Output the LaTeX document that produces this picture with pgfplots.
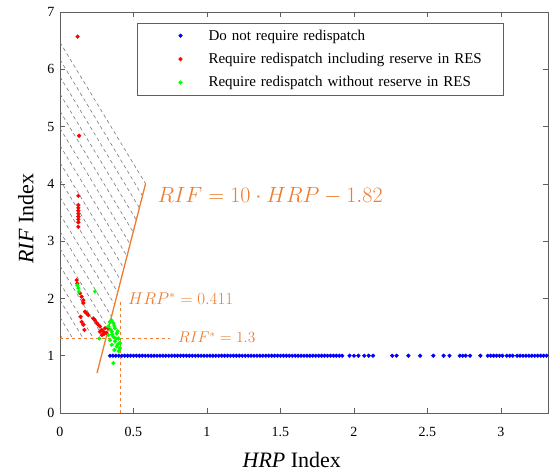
\RequirePackage{fix-cm}
\documentclass[border=0pt]{standalone}
\usepackage{pgfplots}
\pgfplotsset{compat=1.18}
\usepackage{fontspec}
\setmainfont{Liberation Serif}
\definecolor{annot}{RGB}{237,125,49}
\definecolor{axgray}{RGB}{95,95,95}
\definecolor{hatchgray}{RGB}{120,120,120}

\pgfplotsset{
  pointset/.style={color=#1, draw=none, mark=*, mark size=1.9pt,
    mark options={draw=#1, fill=#1, line width=0.4pt},
    legend image code/.code={%
      \path[mark repeat=2, mark phase=2, ##1] plot coordinates {(0pt,0pt) (36pt,0pt) (62pt,0pt)};}},
}

\begin{document}
\begin{tikzpicture}
\begin{axis}[
  scale only axis, width=488pt, height=401pt,
  xmin=0, xmax=3.32, ymin=0, ymax=7,
  xtick={0,0.5,1,1.5,2,2.5,3}, ytick={0,1,2,3,4,5,6,7},
  tick align=inside, major tick length=5pt,
  axis line style={axgray, line width=0.9pt},
  tick style={axgray, line width=0.7pt},
  /pgf/number format/assume math mode=true,
  ticklabel style={font=\fontsize{14}{14}\selectfont},
  xticklabel style={yshift=-11pt},
  yticklabel style={xshift=-2pt},
  xlabel={\textit{HRP} Index}, ylabel={\textit{RIF} Index},
  label style={font=\fontsize{22}{22}\selectfont},
  xlabel style={at={(axis description cs:0.475,-0.09)}, anchor=north},
  ylabel style={at={(axis description cs:-0.047,0.485)}, anchor=south},
  legend cell align=left,
  legend style={at={(0.158,0.973)}, anchor=north west, draw=axgray,
    line width=0.8pt, font=\fontsize{15}{17}\selectfont,
    inner xsep=7pt, inner ysep=4.5pt, row sep=7.5pt,
    nodes={text width=286pt}},
]

% Dashed hatching of the redispatch region
\addplot[hatchgray, line width=0.6pt, dash pattern=on 3.5pt off 3pt,
  forget plot, unbounded coords=jump] coordinates {
  (0,6.47) (0.5822,4.002) (nan,nan)
  (0,6.17) (0.5611,3.791) (nan,nan)
  (0,5.87) (0.5400,3.580) (nan,nan)
  (0,5.57) (0.5190,3.370) (nan,nan)
  (0,5.27) (0.4979,3.159) (nan,nan)
  (0,4.97) (0.4768,2.948) (nan,nan)
  (0,4.67) (0.4558,2.738) (nan,nan)
  (0,4.37) (0.4347,2.527) (nan,nan)
  (0,4.07) (0.4136,2.316) (nan,nan)
  (0,3.77) (0.3926,2.106) (nan,nan)
  (0,3.47) (0.3715,1.895) (nan,nan)
  (0,3.17) (0.3504,1.684) (nan,nan)
  (0,2.87) (0.3294,1.474) (nan,nan)
  (0,2.57) (0.2995,1.3) (nan,nan)
  (0,2.27) (0.2288,1.3) (nan,nan)
  (0,1.97) (0.1580,1.3) (nan,nan)
  (0,1.67) (0.0873,1.3) (nan,nan)
  (0,1.37) (0.0165,1.3)
};

% Thresholds and boundary line
\addplot[annot, line width=1.3pt, forget plot] coordinates {(0.252,0.70) (0.582,4.0)};
\addplot[annot, dashed, line width=0.8pt, forget plot] coordinates {(0.411,0) (0.411,1.94)};
\addplot[annot, dashed, line width=0.8pt, forget plot] coordinates {(0,1.3) (0.75,1.3)};

% Operating points
\addplot[pointset=blue] coordinates {
  (0.34,1) (0.36,1) (0.38,1) (0.40,1) (0.42,1) (0.44,1) (0.46,1) (0.48,1) (0.50,1)
  (0.52,1) (0.54,1) (0.56,1) (0.58,1) (0.60,1) (0.62,1) (0.64,1) (0.66,1) (0.68,1)
  (0.70,1) (0.72,1) (0.74,1) (0.76,1) (0.78,1) (0.80,1) (0.82,1) (0.84,1) (0.86,1)
  (0.88,1) (0.90,1) (0.92,1) (0.94,1) (0.96,1) (0.98,1) (1.00,1) (1.02,1) (1.04,1)
  (1.06,1) (1.08,1) (1.10,1) (1.12,1) (1.14,1) (1.16,1) (1.18,1) (1.20,1) (1.22,1)
  (1.24,1) (1.26,1) (1.28,1) (1.30,1) (1.32,1) (1.34,1) (1.36,1) (1.38,1) (1.40,1)
  (1.42,1) (1.44,1) (1.46,1) (1.48,1) (1.50,1) (1.52,1) (1.54,1) (1.56,1) (1.58,1)
  (1.60,1) (1.62,1) (1.64,1) (1.66,1) (1.68,1) (1.70,1) (1.72,1) (1.74,1) (1.76,1)
  (1.78,1) (1.80,1) (1.82,1) (1.84,1) (1.86,1) (1.88,1) (1.90,1) (1.92,1)
  (1.97,1) (2.00,1) (2.03,1) (2.07,1) (2.10,1) (2.13,1)
  (2.26,1) (2.29,1) (2.37,1) (2.45,1) (2.54,1) (2.61,1) (2.65,1)
  (2.72,1) (2.74,1) (2.76,1) (2.79,1) (2.86,1)
  (2.91,1) (2.93,1) (2.95,1) (2.97,1) (2.99,1) (3.01,1)
  (3.04,1) (3.06,1) (3.08,1) (3.11,1) (3.13,1) (3.15,1) (3.17,1) (3.19,1)
  (3.21,1) (3.23,1) (3.25,1) (3.27,1) (3.29,1) (3.31,1)
};
\addlegendentry{Do not require redispatch}

\addplot[pointset=red] coordinates {
  (0.120,6.57) (0.130,4.84) (0.125,3.79)
  (0.125,3.63) (0.125,3.58) (0.125,3.53) (0.125,3.48) (0.125,3.43) (0.125,3.38)
  (0.125,3.33) (0.125,3.25)
  (0.113,2.32) (0.118,2.26) (0.136,2.09) (0.147,2.03) (0.159,1.97) (0.159,1.92)
  (0.170,1.77) (0.181,1.74) (0.193,1.71)
  (0.140,1.68) (0.147,1.59) (0.159,1.54) (0.166,1.45)
  (0.227,1.65) (0.238,1.62) (0.250,1.57) (0.260,1.54) (0.272,1.51)
  (0.283,1.45) (0.272,1.42) (0.295,1.42) (0.306,1.48) (0.329,1.48)
  (0.300,1.38) (0.285,1.36) (0.315,1.40)
};
\addlegendentry{Require redispatch including reserve in RES}

\addplot[pointset=green] coordinates {
  (0.118,2.23) (0.125,2.18) (0.129,2.12) (0.238,2.12) (0.267,1.30)
  (0.340,1.59) (0.363,1.57) (0.329,1.51) (0.374,1.48) (0.352,1.42) (0.386,1.39)
  (0.329,1.36) (0.363,1.33) (0.397,1.30) (0.340,1.27) (0.374,1.25) (0.408,1.22)
  (0.352,1.19) (0.386,1.16) (0.408,1.13) (0.363,0.87)
  (0.350,1.62) (0.370,1.52) (0.345,1.45) (0.392,1.43) (0.356,1.37) (0.380,1.30)
  (0.395,1.20) (0.370,1.10) (0.400,1.08)
};
\addlegendentry{Require redispatch without reserve in RES}

% Annotations
\node[annot, anchor=west, font=\fontsize{22}{22}\selectfont] at (axis cs:0.64,3.79)
  {$RIF = 10 \cdot HRP - 1.82$};
\node[annot, anchor=west, font=\fontsize{17}{17}\selectfont] at (axis cs:0.44,2.0)
  {$HRP^{*} = 0.411$};
\node[annot, anchor=west, font=\fontsize{15.5}{15.5}\selectfont] at (axis cs:0.78,1.32)
  {$RIF^{*} = 1.3$};
\end{axis}
\pgfresetboundingbox
\path ([xshift=-60pt,yshift=-62pt]current axis.south west)
  rectangle ([xshift=2pt,yshift=12pt]current axis.north east);
\end{tikzpicture}
\end{document}
